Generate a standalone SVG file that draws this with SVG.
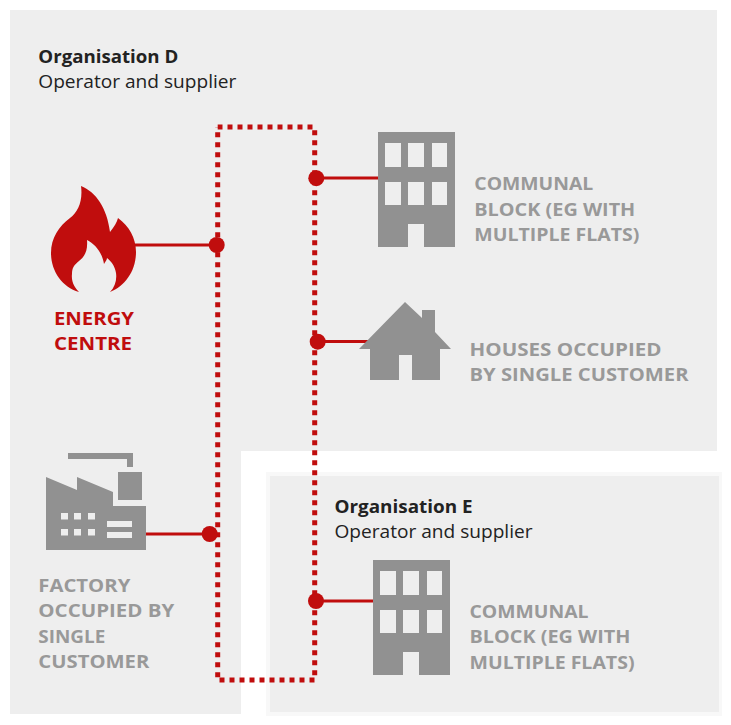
<svg xmlns="http://www.w3.org/2000/svg" xmlns:xlink="http://www.w3.org/1999/xlink" width="731" height="725" viewBox="0 0 731 725">
<style>
text{font-family:"Open Sans","Lato","Liberation Sans",sans-serif}
.org{font-size:18px;font-weight:700;fill:#222}
.sub{font-size:18.500px;fill:#222}
.lbl{font-size:18px;font-weight:700;fill:#999}
.red{font-size:18px;font-weight:700;fill:#c00d0d}
.ic{fill:#919191}
.hole{fill:#eee}
.wire{fill:none;stroke:#c00d0d;stroke-width:3}
.dot{fill:none;stroke:#c00d0d;stroke-width:5;stroke-dasharray:5 5}
.j{fill:#c00d0d}
</style>
<defs>
<g id="block">
<path class="ic" d="M378 132H455V247H424V224H408V247H378Z"/>
<path class="hole" d="M385 143h16v24h-16zM408 143h16v24h-16zM432 143h15v24h-15zM385 182h16v23h-16zM408 182h16v23h-16zM432 182h15v23h-15z"/>
</g>
</defs>
<rect width="731" height="725" fill="#fff"/>
<g id="panels">
<path id="panel-d" fill="#eee" d="M10 10H717V451H241V714H10Z"/>
<rect x="266" y="472" width="456" height="244" fill="#f8f8f8"/>
<rect id="panel-e" x="270" y="476" width="449" height="236" fill="#eee"/>
</g>
<g id="connectors">
<path class="dot" d="M217.700 127H314.700" stroke-dashoffset="0.200"/>
<path class="dot" d="M217.700 127V680" stroke-dashoffset="4.800"/>
<path class="dot" d="M314.700 127V680" stroke-dashoffset="6.800"/>
<path class="dot" d="M217.700 680H317" stroke-dashoffset="8.200"/>
<path class="wire" d="M134 245H217"/>
<path class="wire" d="M316 178H378"/>
<path class="wire" d="M317 341.500H368"/>
<path class="wire" d="M146 534H209"/>
<path class="wire" d="M316 601H373"/>
<circle class="j" cx="216.700" cy="245" r="8"/>
<circle class="j" cx="316.300" cy="178.200" r="8"/>
<circle class="j" cx="317.700" cy="341.700" r="8"/>
<circle class="j" cx="209.700" cy="534" r="8"/>
<circle class="j" cx="316" cy="601" r="8"/>
</g>
<g id="org-d">
<text class="org" x="38.300" y="63" textLength="140" lengthAdjust="spacingAndGlyphs">Organisation D</text>
<text class="sub" x="38.300" y="88" textLength="198" lengthAdjust="spacingAndGlyphs">Operator and supplier</text>
</g>
<g id="org-e">
<text class="org" x="334.500" y="513" textLength="138" lengthAdjust="spacingAndGlyphs">Organisation E</text>
<text class="sub" x="334.500" y="538" textLength="198" lengthAdjust="spacingAndGlyphs">Operator and supplier</text>
</g>
<g id="energy-centre">
<path fill="#c00d0d" d="M81 186C96 192 107 208 110 232C114 227 117 222 118 218C129 226 136 238 136 252C136 271 125 286 110 292C115 287 117 280 116 273C115 266 111 261 107 258C107 260 105 262 104 264C102 252 95 244 87 240C88 252 84 257 79 261C74 265 72 268 72 274C71 282 75 288 79 292C62 287 51 271 51 253C51 238 59 226 70 218C78 212 83 201 81 186Z"/>
<text class="red" x="54" y="325" textLength="80" lengthAdjust="spacingAndGlyphs">ENERGY</text>
<text class="red" x="54" y="350" textLength="78" lengthAdjust="spacingAndGlyphs">CENTRE</text>
</g>
<g id="factory">
<path class="ic" d="M68 453H133V467H127V459H68ZM118 472H142V500H118ZM46 477L77 490V477L113 492V506H146V550H46Z"/>
<path class="hole" d="M61 513h7v6.500h-7zM74 513h7v6.500h-7zM88 513h7v6.500h-7zM61 529h7v6.500h-7zM74 529h7v6.500h-7zM88 529h7v6.500h-7zM107 521h25v6h-25zM107 532h25v6h-25z"/>
<text class="lbl" x="38.300" y="592" textLength="92" lengthAdjust="spacingAndGlyphs">FACTORY</text>
<text class="lbl" x="38.300" y="617" textLength="136" lengthAdjust="spacingAndGlyphs">OCCUPIED BY</text>
<text class="lbl" x="38.300" y="643" textLength="67" lengthAdjust="spacingAndGlyphs">SINGLE</text>
<text class="lbl" x="38.300" y="668" textLength="111" lengthAdjust="spacingAndGlyphs">CUSTOMER</text>
</g>
<g id="communal-block-d">
<use xlink:href="#block" href="#block"/>
<text class="lbl" x="474.300" y="190" textLength="119" lengthAdjust="spacingAndGlyphs">COMMUNAL</text>
<text class="lbl" x="474.300" y="216" textLength="161" lengthAdjust="spacingAndGlyphs">BLOCK (EG WITH</text>
<text class="lbl" x="474.300" y="241" textLength="165" lengthAdjust="spacingAndGlyphs">MULTIPLE FLATS)</text>
</g>
<g id="houses">
<path class="ic" d="M405 302L422 318V310H435V332L451 349H440V380H412V355H399V380H370V349H359Z"/>
<text class="lbl" x="469.500" y="356" textLength="192" lengthAdjust="spacingAndGlyphs">HOUSES OCCUPIED</text>
<text class="lbl" x="469.500" y="381" textLength="219" lengthAdjust="spacingAndGlyphs">BY SINGLE CUSTOMER</text>
</g>
<g id="communal-block-e">
<use xlink:href="#block" href="#block" transform="translate(-5 428)"/>
<text class="lbl" x="469.500" y="618" textLength="119" lengthAdjust="spacingAndGlyphs">COMMUNAL</text>
<text class="lbl" x="469.500" y="643" textLength="161" lengthAdjust="spacingAndGlyphs">BLOCK (EG WITH</text>
<text class="lbl" x="469.500" y="669" textLength="165" lengthAdjust="spacingAndGlyphs">MULTIPLE FLATS)</text>
</g>
</svg>
